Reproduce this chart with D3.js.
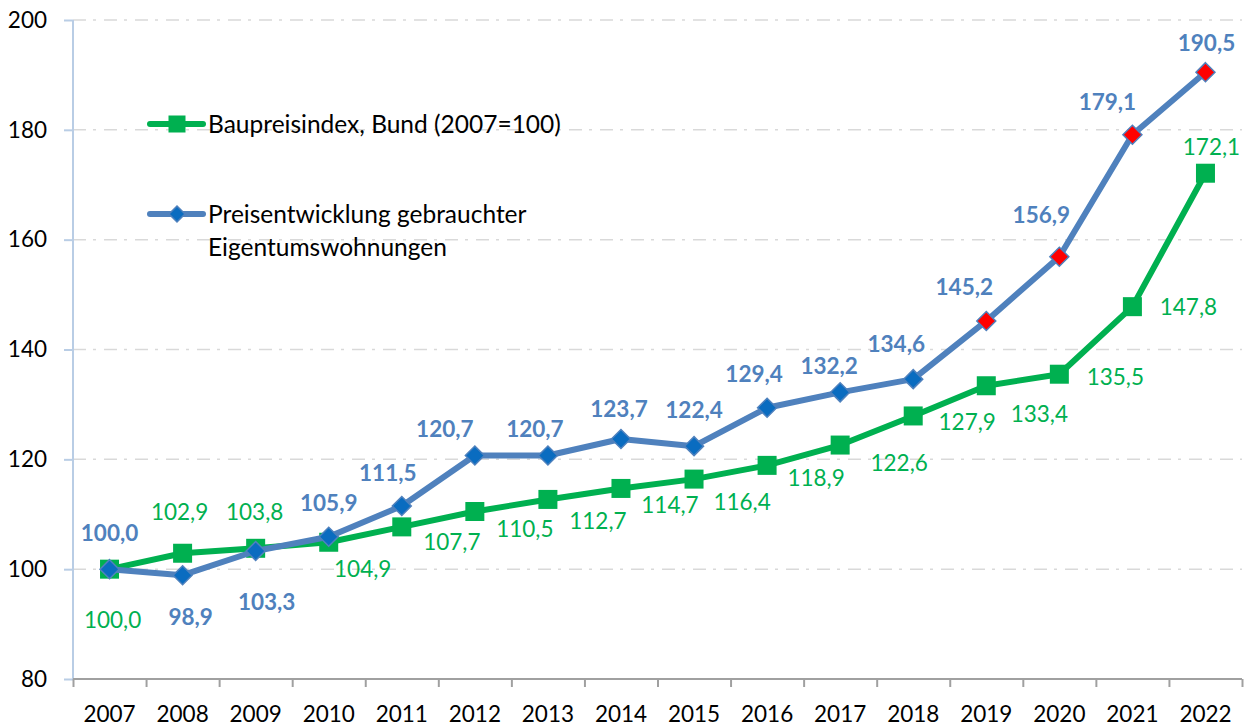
<!DOCTYPE html>
<html lang="de">
<head>
<meta charset="utf-8">
<script src="https://cdn.jsdelivr.net/npm/d3@7"></script>
<style>
  html, body { margin: 0; padding: 0; background: #fff; }
  svg { display: block; font-family: Lato, "Open Sans", sans-serif; }
</style>
</head>
<body>
<svg id="chart" width="1249" height="727"></svg>
<script>
// Jahre (Kategorien)
const years = ["2007","2008","2009","2010","2011","2012","2013","2014","2015","2016","2017","2018","2019","2020","2021","2022"];
// Baupreisindex, Bund (2007=100)
const baupreisindex = [100.0, 102.9, 103.8, 104.9, 107.7, 110.5, 112.7, 114.7, 116.4, 118.9, 122.6, 127.9, 133.4, 135.5, 147.8, 172.1];
// Preisentwicklung gebrauchter Eigentumswohnungen
const wohnungspreise = [100.0, 98.9, 103.3, 105.9, 111.5, 120.7, 120.7, 123.7, 122.4, 129.4, 132.2, 134.6, 145.2, 156.9, 179.1, 190.5];
// Jahre mit rot hervorgehobenen Markern
const highlightYears = ["2019","2020","2021","2022"];
// Achsenbeschriftung
const yTicks = [80, 100, 120, 140, 160, 180, 200];
const seriesNames = ["Baupreisindex, Bund (2007=100)", ["Preisentwicklung gebrauchter", "Eigentumswohnungen"]];

// Verschiebung der Wertbeschriftungen relativ zum Marker [dx, dy]
const greenLabelShift = [[3,51],[-3,-41],[-1,-36],[34,27],[50,15],[50,18],[50,22],[49,17],[48,23],[49,13],[59,18],[54,6],[53,28],[56,3],[56,0],[6,-26]];
const blueLabelShift = [[0,-36],[8,42],[11,51],[0,-34],[-14,-33],[-30,-26],[-13,-26],[-2,-30],[0,-36],[-13,-34],[-11,-26],[-17,-35],[-22,-34],[-18,-42],[-25,-33],[1,-29]];

const GREEN = "#00B050";
const BLUE_LINE = "#4F81BD";
const BLUE_MARK = "#0A6CC0";
const BLUE_TEXT = "#4F81BD";
const FONT = 22.5;
const LEGEND_FONT = 24.5;

const svg = d3.select("#chart");
const plotLeft = 73, plotRight = 1242, plotTop = 20, plotBottom = 679;

const x = d3.scaleBand().domain(years).range([plotLeft, plotRight]).padding(0);
const y = d3.scaleLinear().domain([80, 200]).range([plotBottom, plotTop]);
const fmt = v => d3.format(".1f")(v).replace(".", ",");

// Gitternetzlinien (Strich-Punkt)
svg.append("g")
  .selectAll("line")
  .data(yTicks.filter(t => t > 80))
  .join("line")
  .attr("x1", plotLeft).attr("x2", plotRight)
  .attr("y1", d => y(d)).attr("y2", d => y(d))
  .attr("stroke", "#D9D9D9")
  .attr("stroke-width", 1.5)
  .attr("stroke-dasharray", "13,7,3,8");

// Y-Achse
const yAxis = svg.append("g")
  .attr("transform", `translate(${plotLeft},0)`)
  .call(d3.axisLeft(y).tickValues(yTicks).tickSize(9).tickPadding(17).tickFormat(d3.format("d")));
yAxis.select(".domain").attr("stroke", "#B9CDE5").attr("stroke-width", 2).attr("d", `M0,${plotBottom}V${plotTop}`);
yAxis.selectAll(".tick line").attr("stroke", "#B9CDE5").attr("stroke-width", 2);
yAxis.selectAll(".tick text").attr("font-size", FONT).attr("fill", "#000").attr("font-family", "Lato, sans-serif");

// X-Achse: Teilstriche an den Kategoriegrenzen
const boundary = d3.scaleLinear().domain([0, years.length]).range([plotLeft, plotRight]);
const xTickAxis = svg.append("g")
  .attr("transform", `translate(0,${plotBottom})`)
  .call(d3.axisBottom(boundary).tickValues(d3.range(years.length + 1)).tickSize(8).tickFormat(""));
xTickAxis.select(".domain").attr("stroke", "#A0A0A0").attr("stroke-width", 2).attr("d", `M${plotLeft},0H${plotRight}`);
xTickAxis.selectAll(".tick line").attr("stroke", "#A0A0A0").attr("stroke-width", 2);

// X-Achse: Jahresbeschriftungen
const xAxis = svg.append("g")
  .attr("transform", `translate(0,${plotBottom})`)
  .call(d3.axisBottom(x).tickSize(0).tickPadding(27));
xAxis.select(".domain").remove();
xAxis.selectAll(".tick text").attr("font-size", FONT).attr("fill", "#000").attr("font-family", "Lato, sans-serif");

const cx = (d, i) => x(years[i]) + x.bandwidth() / 2;
const line = d3.line().x((d, i) => cx(d, i)).y(d => y(d));

// Baupreisindex (grün, Quadrate)
svg.append("path")
  .datum(baupreisindex)
  .attr("d", line)
  .attr("fill", "none")
  .attr("stroke", GREEN)
  .attr("stroke-width", 6)
  .attr("stroke-linejoin", "round");
const sq = 19;
svg.append("g")
  .selectAll("rect")
  .data(baupreisindex)
  .join("rect")
  .attr("x", (d, i) => cx(d, i) - sq / 2)
  .attr("y", d => y(d) - sq / 2)
  .attr("width", sq).attr("height", sq)
  .attr("fill", GREEN);

// Wohnungspreise (blau, Rauten)
svg.append("path")
  .datum(wohnungspreise)
  .attr("d", line)
  .attr("fill", "none")
  .attr("stroke", BLUE_LINE)
  .attr("stroke-width", 6)
  .attr("stroke-linejoin", "round");
const diamond = r => `M0,${-r}L${r},0L0,${r}L${-r},0Z`;
svg.append("g")
  .selectAll("path")
  .data(wohnungspreise)
  .join("path")
  .attr("transform", (d, i) => `translate(${cx(d, i)},${y(d)})`)
  .attr("d", diamond(9.5))
  .attr("fill", (d, i) => highlightYears.includes(years[i]) ? "#FF0000" : BLUE_MARK)
  .attr("stroke", BLUE_LINE)
  .attr("stroke-width", 1.5);

// Wertbeschriftungen
svg.append("g")
  .selectAll("text")
  .data(baupreisindex)
  .join("text")
  .attr("x", (d, i) => cx(d, i) + greenLabelShift[i][0])
  .attr("y", (d, i) => y(d) + greenLabelShift[i][1])
  .attr("dy", "0.35em")
  .attr("text-anchor", "middle")
  .attr("font-size", FONT)
  .attr("fill", GREEN)
  .text(fmt);

svg.append("g")
  .selectAll("text")
  .data(wohnungspreise)
  .join("text")
  .attr("x", (d, i) => cx(d, i) + blueLabelShift[i][0])
  .attr("y", (d, i) => y(d) + blueLabelShift[i][1])
  .attr("dy", "0.35em")
  .attr("text-anchor", "middle")
  .attr("font-size", FONT)
  .attr("font-weight", "bold")
  .attr("fill", BLUE_TEXT)
  .text(fmt);

// Legende
const legend = svg.append("g");
const lg1 = legend.append("g").attr("transform", "translate(150,124)");
lg1.append("line").attr("x1", 0).attr("x2", 53).attr("stroke", GREEN).attr("stroke-width", 6).attr("stroke-linecap", "round");
lg1.append("rect").attr("x", 27 - 8.5).attr("y", -8.5).attr("width", 17).attr("height", 17).attr("fill", GREEN);
lg1.append("text").attr("x", 58).attr("dy", "0.35em").attr("font-size", LEGEND_FONT).attr("fill", "#000").text(seriesNames[0]);

const lg2 = legend.append("g").attr("transform", "translate(150,214)");
lg2.append("line").attr("x1", 0).attr("x2", 53).attr("stroke", BLUE_LINE).attr("stroke-width", 6).attr("stroke-linecap", "round");
lg2.append("path").attr("transform", "translate(27,0)").attr("d", diamond(8)).attr("fill", BLUE_MARK).attr("stroke", BLUE_LINE).attr("stroke-width", 1.5);
const t2 = lg2.append("text").attr("x", 58).attr("font-size", LEGEND_FONT).attr("fill", "#000");
t2.append("tspan").attr("x", 58).attr("dy", "0.35em").text(seriesNames[1][0]);
t2.append("tspan").attr("x", 58).attr("y", 33).attr("dy", "0.35em").text(seriesNames[1][1]);
</script>
</body>
</html>
